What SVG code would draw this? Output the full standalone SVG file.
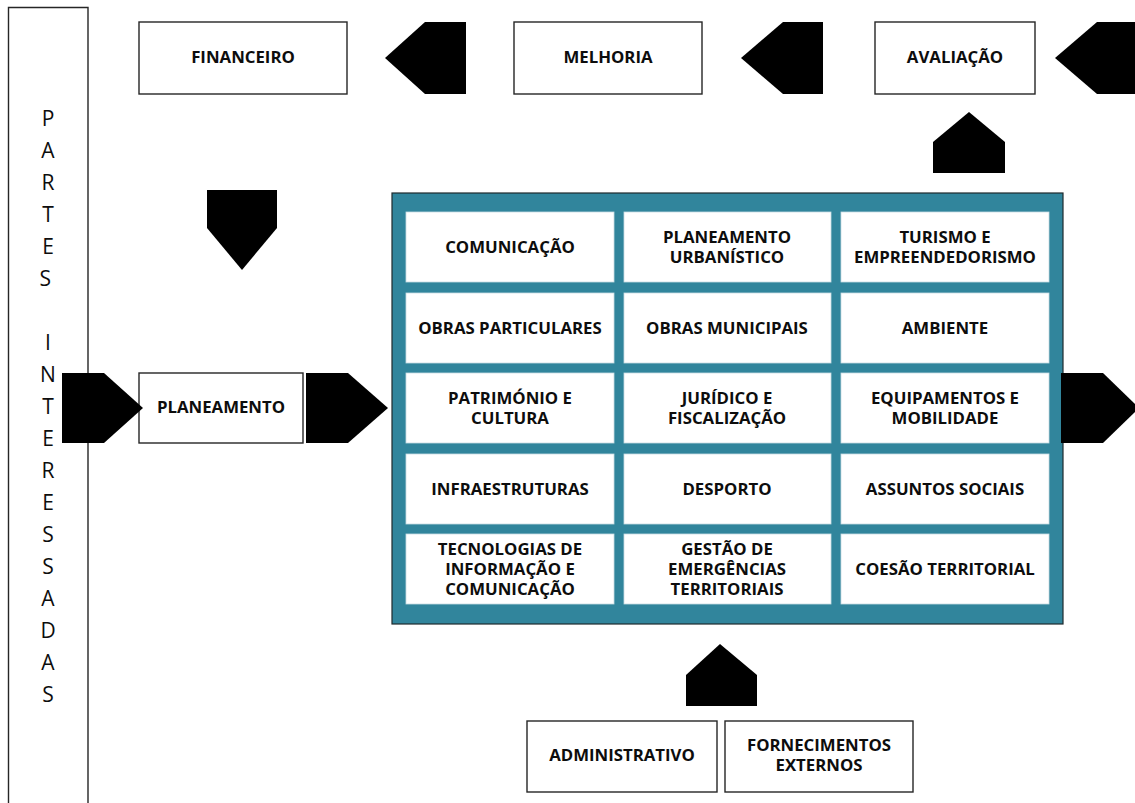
<svg xmlns="http://www.w3.org/2000/svg" width="1135" height="803" viewBox="0 0 1135 803">
<style>
.box{fill:#fff;stroke:#262626;stroke-width:1.4}
.cell{fill:#fff;stroke:#c9dde3;stroke-width:0.8}
.lbl{font-family:"Open Sans","Liberation Sans",sans-serif;font-weight:700;font-size:16.8px;fill:#0d0d0d;text-anchor:middle}
.side{font-family:"Open Sans","Liberation Sans",sans-serif;font-size:21px;fill:#0d0d0d;text-anchor:middle}
.arr{fill:#000}
</style>
<rect width="1135" height="803" fill="#fff"/>
<g id="partes-interessadas">
<path class="box" d="M88,803 V7.5 H8.5 V803" fill="#fff"/>
<text class="side">
<tspan x="48" y="126">P</tspan><tspan x="48" y="158">A</tspan><tspan x="48" y="190">R</tspan><tspan x="48" y="222">T</tspan><tspan x="48" y="254">E</tspan><tspan x="48" y="286">S</tspan>
<tspan x="48" y="350">I</tspan><tspan x="48" y="382">N</tspan><tspan x="48" y="414">T</tspan><tspan x="48" y="446">E</tspan><tspan x="48" y="478">R</tspan><tspan x="48" y="510">E</tspan><tspan x="48" y="542">S</tspan><tspan x="48" y="574">S</tspan><tspan x="48" y="606">A</tspan><tspan x="48" y="638">D</tspan><tspan x="48" y="670">A</tspan><tspan x="48" y="702">S</tspan>
</text>
</g>
<g id="financeiro"><rect class="box" x="139" y="22" width="208" height="72"/><text class="lbl" x="243" y="63">FINANCEIRO</text></g>
<g id="melhoria"><rect class="box" x="514" y="22" width="188" height="72"/><text class="lbl" x="608" y="63">MELHORIA</text></g>
<g id="avaliacao"><rect class="box" x="875" y="22" width="160" height="72"/><text class="lbl" x="955" y="63">AVALIAÇÃO</text></g>
<g id="planeamento"><rect class="box" x="139" y="373" width="164" height="70"/><text class="lbl" x="221" y="413">PLANEAMENTO</text></g>
<g id="administrativo"><rect class="box" x="527" y="721" width="190" height="71"/><text class="lbl" x="622" y="761">ADMINISTRATIVO</text></g>
<g id="fornecimentos-externos"><rect class="box" x="725" y="721" width="188" height="71"/><text class="lbl" x="819" y="751"><tspan x="819">FORNECIMENTOS</tspan><tspan x="819" dy="20">EXTERNOS</tspan></text></g>
<g id="areas">
<rect x="392" y="193" width="671" height="431" fill="#31859c" stroke="#1f2a2e" stroke-width="1.2"/>
<g id="comunicacao"><rect class="cell" x="406" y="212" width="208" height="70"/><text class="lbl" x="510" y="253">COMUNICAÇÃO</text></g>
<g id="planeamento-urbanistico"><rect class="cell" x="624" y="212" width="207" height="70"/><text class="lbl" x="727" y="243"><tspan x="727">PLANEAMENTO</tspan><tspan x="727" dy="20">URBANÍSTICO</tspan></text></g>
<g id="turismo"><rect class="cell" x="841" y="212" width="208" height="70"/><text class="lbl" x="945" y="243"><tspan x="945">TURISMO E</tspan><tspan x="945" dy="20">EMPREENDEDORISMO</tspan></text></g>
<g id="obras-particulares"><rect class="cell" x="406" y="293" width="208" height="70"/><text class="lbl" x="510" y="334">OBRAS PARTICULARES</text></g>
<g id="obras-municipais"><rect class="cell" x="624" y="293" width="207" height="70"/><text class="lbl" x="727" y="334">OBRAS MUNICIPAIS</text></g>
<g id="ambiente"><rect class="cell" x="841" y="293" width="208" height="70"/><text class="lbl" x="945" y="334">AMBIENTE</text></g>
<g id="patrimonio"><rect class="cell" x="406" y="373" width="208" height="70"/><text class="lbl" x="510" y="404"><tspan x="510">PATRIMÓNIO E</tspan><tspan x="510" dy="20">CULTURA</tspan></text></g>
<g id="juridico"><rect class="cell" x="624" y="373" width="207" height="70"/><text class="lbl" x="727" y="404"><tspan x="727">JURÍDICO E</tspan><tspan x="727" dy="20">FISCALIZAÇÃO</tspan></text></g>
<g id="equipamentos"><rect class="cell" x="841" y="373" width="208" height="70"/><text class="lbl" x="945" y="404"><tspan x="945">EQUIPAMENTOS E</tspan><tspan x="945" dy="20">MOBILIDADE</tspan></text></g>
<g id="infraestruturas"><rect class="cell" x="406" y="454" width="208" height="70"/><text class="lbl" x="510" y="495">INFRAESTRUTURAS</text></g>
<g id="desporto"><rect class="cell" x="624" y="454" width="207" height="70"/><text class="lbl" x="727" y="495">DESPORTO</text></g>
<g id="assuntos-sociais"><rect class="cell" x="841" y="454" width="208" height="70"/><text class="lbl" x="945" y="495">ASSUNTOS SOCIAIS</text></g>
<g id="tecnologias"><rect class="cell" x="406" y="534" width="208" height="70"/><text class="lbl" x="510" y="555"><tspan x="510">TECNOLOGIAS DE</tspan><tspan x="510" dy="20">INFORMAÇÃO E</tspan><tspan x="510" dy="20">COMUNICAÇÃO</tspan></text></g>
<g id="gestao-emergencias"><rect class="cell" x="624" y="534" width="207" height="70"/><text class="lbl" x="727" y="555"><tspan x="727">GESTÃO DE</tspan><tspan x="727" dy="20">EMERGÊNCIAS</tspan><tspan x="727" dy="20">TERRITORIAIS</tspan></text></g>
<g id="coesao-territorial"><rect class="cell" x="841" y="534" width="208" height="70"/><text class="lbl" x="945" y="575">COESÃO TERRITORIAL</text></g>
</g>
<g id="connectors">
<polygon class="arr" points="385,58 425,22 466,22 466,94 425,94"/>
<polygon class="arr" points="741,58 783,22 823,22 823,94 783,94"/>
<polygon class="arr" points="1055,58 1097,22 1140,22 1140,94 1097,94"/>
<polygon class="arr" points="933,173 933,142 969,112 1005,142 1005,173"/>
<polygon class="arr" points="207,190 277,190 277,228 242,270 207,228"/>
<polygon class="arr" points="62,373 104,373 143,408 104,443 62,443"/>
<polygon class="arr" points="306,373 348,373 388,408 348,443 306,443"/>
<polygon class="arr" points="1061,373 1103,373 1139,408 1103,443 1061,443"/>
<polygon class="arr" points="686,706 686,675 720,644 757,675 757,706"/>
</g>
</svg>
